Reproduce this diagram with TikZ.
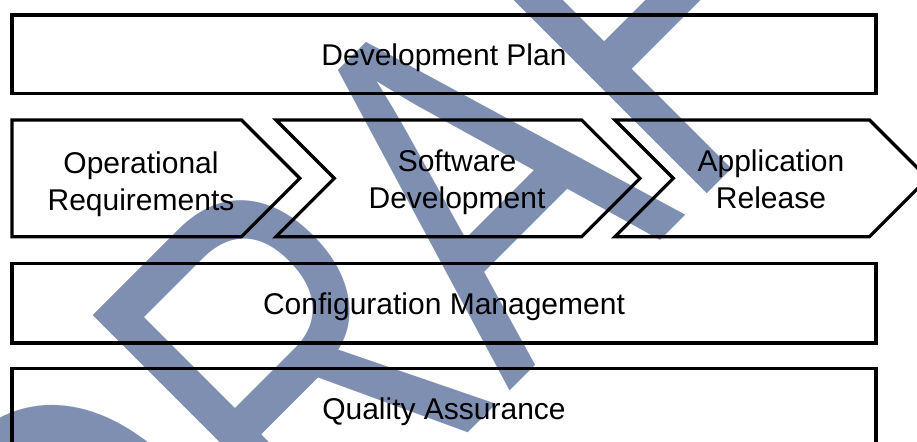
\documentclass[tikz,border=0pt]{standalone}
\usepackage{fontspec}
\setmainfont{Liberation Sans}
\definecolor{draftblue}{RGB}{127,143,178}
\begin{document}
\begin{tikzpicture}[x=0.5pt,y=-0.5pt,
    box/.style={draw,line width=1.6pt},
    lbl/.style={font=\fontsize{15}{18.5}\selectfont,align=center,inner sep=0pt}]
  \useasboundingbox (0,0) rectangle (917,441);
  \clip (0,0) rectangle (917,441);
  % watermark behind everything
  \begin{scope}[shift={(126,775)},rotate=45,xscale=0.741]
    \node[transform shape,anchor=base west,inner sep=0pt,text=draftblue,
      font=\fontsize{253}{253}\selectfont] (draft) at (0,0) {DRAFT};
  \end{scope}
  % bars
  \draw[box] (12,15) rectangle (876,93.5);
  \node[lbl,anchor=base] (plan) at (444,65) {Development Plan};
  \draw[box] (12,263.5) rectangle (876,343);
  \node[lbl,anchor=base] (config) at (444,314) {Configuration Management};
  \draw[box] (12,368.8) rectangle (876,448.3);
  \node[lbl,anchor=base] (quality) at (444,419) {Quality Assurance};
  % chevrons
  \draw[box] (12,120)--(241.5,120)--(299.8,178.3)--(241.5,236.7)--(12,236.7)--cycle;
  \draw[box] (276,120)--(581.7,120)--(640,178.3)--(581.7,236.7)--(276,236.7)--(334.3,178.3)--cycle;
  \draw[box] (615,120)--(869.5,120)--(927.8,178.3)--(869.5,236.7)--(615,236.7)--(673.3,178.3)--cycle;
  \node[lbl] (opreq) at (141,183.8) {Operational\\Requirements};
  \node[lbl] (swdev) at (457,181.8) {Software\\Development};
  \node[lbl] (release) at (771,179.7) {Application\\Release};
\end{tikzpicture}
\end{document}
